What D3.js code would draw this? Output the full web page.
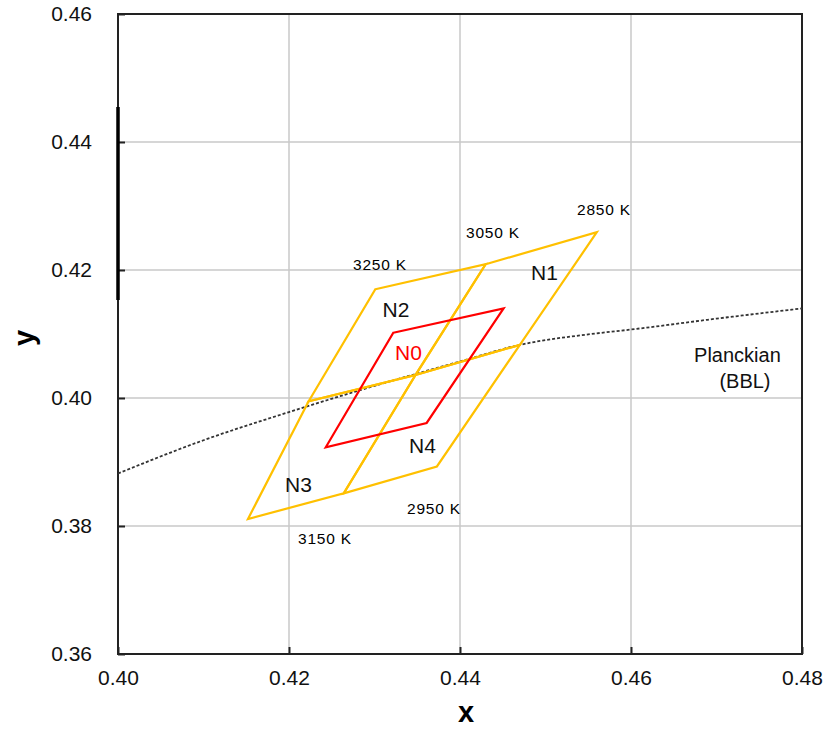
<!DOCTYPE html>
<html>
<head>
<meta charset="utf-8">
<script src="https://cdn.jsdelivr.net/npm/d3@7"></script>
<style>
  html, body { margin: 0; padding: 0; background: #fff; }
  svg { display: block; font-family: "Liberation Sans", Arial, sans-serif; }
</style>
</head>
<body>
<svg id="chart" width="827" height="730"></svg>
<script>
// ---- data ----
const xTicks = [0.40, 0.42, 0.44, 0.46, 0.48];
const yTicks = [0.36, 0.38, 0.40, 0.42, 0.44, 0.46];

// Planckian locus (black body line)
const bblX = [0.400, 0.410, 0.420, 0.430, 0.440, 0.447, 0.456, 0.460, 0.470, 0.480];
const bblY = [0.3882, 0.3934, 0.3978, 0.4019, 0.4057, 0.4083, 0.4101, 0.4107, 0.4124, 0.4140];

// nominal CCT quadrangles N1..N4 (corner chromaticities)
const quadNames = ["N1", "N2", "N3", "N4"];
const quadX = [
  [0.4430, 0.4560, 0.4470, 0.4348],
  [0.4301, 0.4430, 0.4348, 0.4223],
  [0.4223, 0.4348, 0.4264, 0.4152],
  [0.4348, 0.4470, 0.4373, 0.4264]
];
const quadY = [
  [0.4209, 0.4259, 0.4083, 0.4036],
  [0.4170, 0.4209, 0.4036, 0.3995],
  [0.3995, 0.4036, 0.3851, 0.3811],
  [0.4036, 0.4083, 0.3893, 0.3851]
];

// N0 quadrangle
const n0X = [0.4322, 0.4451, 0.4361, 0.4243];
const n0Y = [0.4102, 0.4140, 0.3961, 0.3923];

// CCT labels
const cctLabels = ["2850 K", "3050 K", "3250 K", "2950 K", "3150 K"];

// ---- layout ----
const W = 827, H = 730;
const margin = { left: 118, top: 14, right: 25, bottom: 76 };
const svg = d3.select("#chart");
const x = d3.scaleLinear().domain([0.40, 0.48]).range([margin.left, W - margin.right]);
const y = d3.scaleLinear().domain([0.36, 0.46]).range([H - margin.bottom, margin.top]);

const yellow = "#ffc000";
const red = "#ff0000";

// gridlines
svg.append("g").selectAll("line").data(xTicks.slice(1, -1)).join("line")
  .attr("x1", d => x(d)).attr("x2", d => x(d))
  .attr("y1", y(0.36)).attr("y2", y(0.46))
  .attr("stroke", "#c8c8c8").attr("stroke-width", 1.5);
svg.append("g").selectAll("line").data(yTicks.slice(1, -1)).join("line")
  .attr("x1", x(0.40)).attr("x2", x(0.48))
  .attr("y1", d => y(d)).attr("y2", d => y(d))
  .attr("stroke", "#c8c8c8").attr("stroke-width", 1.5);

// axes (ticks inward)
const xAxis = d3.axisBottom(x).tickValues(xTicks).tickSize(-7).tickPadding(16)
  .tickFormat(d3.format(".2f"));
const yAxis = d3.axisLeft(y).tickValues(yTicks).tickSize(-7).tickPadding(26)
  .tickFormat(d3.format(".2f"));

const gx = svg.append("g").attr("transform", `translate(0,${y(0.36)})`).call(xAxis);
const gy = svg.append("g").attr("transform", `translate(${x(0.40)},0)`).call(yAxis);
[gx, gy].forEach(g => {
  g.select(".domain").remove();
  g.selectAll(".tick line").attr("stroke", "#222").attr("stroke-width", 2);
  g.selectAll(".tick text").attr("fill", "#111").attr("font-size", 21)
    .attr("font-family", "'Liberation Sans', Arial, sans-serif");
});

// frame
svg.append("rect")
  .attr("x", x(0.40)).attr("y", y(0.46))
  .attr("width", x(0.48) - x(0.40)).attr("height", y(0.36) - y(0.46))
  .attr("fill", "none").attr("stroke", "#222").attr("stroke-width", 2);
// thicker segment on left frame
svg.append("line")
  .attr("x1", x(0.40)).attr("x2", x(0.40))
  .attr("y1", 107).attr("y2", 300)
  .attr("stroke", "#000").attr("stroke-width", 3.5);

// Planckian
const bblPts = bblX.map((d, i) => [d, bblY[i]]);
svg.append("path")
  .attr("d", d3.line().x(d => x(d[0])).y(d => y(d[1])).curve(d3.curveMonotoneX)(bblPts))
  .attr("fill", "none").attr("stroke", "#333").attr("stroke-width", 1.8)
  .attr("stroke-dasharray", "3,2");

// quadrangles
const poly = d3.line().x(d => x(d[0])).y(d => y(d[1])).curve(d3.curveLinearClosed);
quadNames.forEach((n, i) => {
  const pts = quadX[i].map((v, j) => [v, quadY[i][j]]);
  svg.append("path").attr("d", poly(pts))
    .attr("fill", "none").attr("stroke", yellow).attr("stroke-width", 2.2)
    .attr("stroke-linejoin", "miter");
});
svg.append("path").attr("d", poly(n0X.map((v, j) => [v, n0Y[j]])))
  .attr("fill", "none").attr("stroke", red).attr("stroke-width", 2.2);

// labels
const cctPos = [[0.45684, 0.42859], [0.44386, 0.4250], [0.43064, 0.4200], [0.43696, 0.38188], [0.42421, 0.37719]];
cctLabels.forEach((t, i) => {
  svg.append("text").attr("x", x(cctPos[i][0])).attr("y", y(cctPos[i][1]))
    .attr("text-anchor", "middle").attr("font-size", 15.5).attr("letter-spacing", 0.8)
    .attr("fill", "#000").text(t);
});
const nPos = [[0.44988, 0.41844], [0.43251, 0.41266], [0.42111, 0.38531], [0.43561, 0.39141]];
quadNames.forEach((t, i) => {
  svg.append("text").attr("x", x(nPos[i][0])).attr("y", y(nPos[i][1]))
    .attr("text-anchor", "middle").attr("font-size", 21).attr("fill", "#111").text(t);
});
svg.append("text").attr("x", x(0.43398)).attr("y", y(0.40594))
  .attr("text-anchor", "middle").attr("font-size", 21).attr("fill", red).text("N0");

svg.append("text").attr("x", x(0.47245)).attr("y", y(0.40562))
  .attr("text-anchor", "middle").attr("font-size", 20).attr("fill", "#111").text("Planckian");
svg.append("text").attr("x", x(0.47333)).attr("y", y(0.40156))
  .attr("text-anchor", "middle").attr("font-size", 20).attr("fill", "#111").text("(BBL)");

// axis titles
svg.append("text").attr("x", 466).attr("y", 722)
  .attr("text-anchor", "middle").attr("font-size", 29).attr("font-weight", "bold")
  .attr("fill", "#000").text("x");
svg.append("text").attr("transform", "translate(34,338) rotate(-90)")
  .attr("text-anchor", "middle").attr("font-size", 29).attr("font-weight", "bold")
  .attr("fill", "#000").text("y");
</script>
</body>
</html>
